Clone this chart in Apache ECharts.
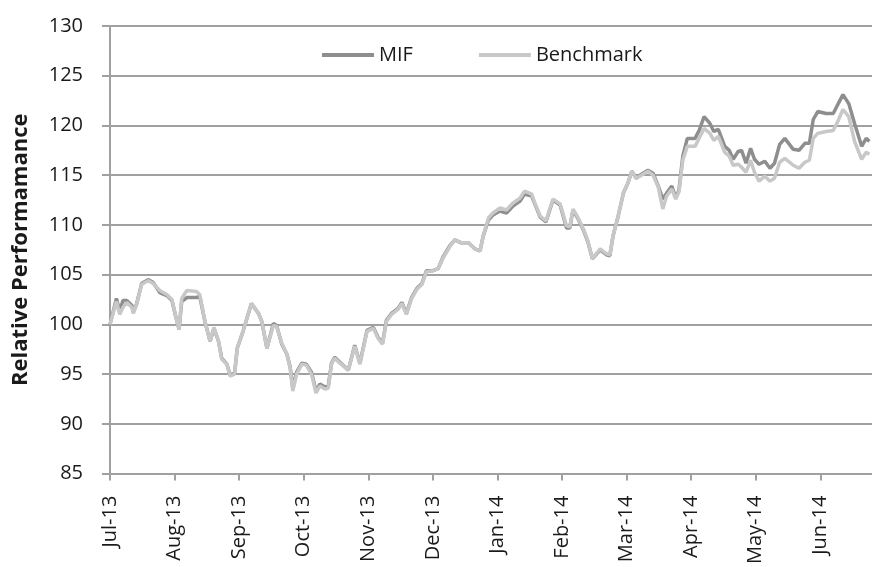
<!DOCTYPE html>
<html>
<head>
<meta charset="utf-8">
<script src="https://cdn.jsdelivr.net/npm/echarts@6/dist/echarts.min.js"></script>
<style>
  html, body { margin: 0; padding: 0; background: #fff; }
  #chart { width: 872px; height: 567px; }
</style>
</head>
<body>
<div id="chart"></div>
<script>
// month tick labels (x axis, one per month starting Jul-13)
var months = ["Jul-13", "Aug-13", "Sep-13", "Oct-13", "Nov-13", "Dec-13",
  "Jan-14", "Feb-14", "Mar-14", "Apr-14", "May-14", "Jun-14"];

// position of each reading, in months since start of Jul-13
var t = [0, 0.10, 0.15, 0.20, 0.26, 0.34, 0.36, 0.41, 0.49, 0.59,
  0.67, 0.77, 0.88, 0.96, 1.01, 1.07, 1.11, 1.19, 1.34, 1.39,
  1.47, 1.55, 1.61, 1.68, 1.73, 1.81, 1.86, 1.93, 1.97, 2.06,
  2.19, 2.30, 2.35, 2.43, 2.53, 2.58, 2.66, 2.74, 2.79, 2.83,
  2.89, 2.97, 3.04, 3.12, 3.19, 3.25, 3.33, 3.38, 3.43, 3.48,
  3.56, 3.69, 3.79, 3.87, 3.98, 4.08, 4.15, 4.22, 4.28, 4.36,
  4.46, 4.52, 4.59, 4.67, 4.75, 4.83, 4.90, 5.00, 5.08, 5.16,
  5.26, 5.34, 5.44, 5.55, 5.65, 5.73, 5.78, 5.86, 5.93, 6.04,
  6.14, 6.24, 6.35, 6.42, 6.53, 6.58, 6.66, 6.75, 6.81, 6.86,
  6.97, 7.07, 7.12, 7.17, 7.25, 7.33, 7.40, 7.47, 7.59, 7.69,
  7.74, 7.79, 7.87, 7.95, 8.02, 8.08, 8.15, 8.23, 8.33, 8.41,
  8.49, 8.56, 8.62, 8.70, 8.76, 8.81, 8.87, 8.94, 9.06, 9.13,
  9.20, 9.29, 9.35, 9.42, 9.52, 9.59, 9.65, 9.73, 9.78, 9.85,
  9.92, 9.98, 10.05, 10.14, 10.22, 10.29, 10.37, 10.45, 10.58, 10.67,
  10.76, 10.83, 10.89, 10.96, 11.09, 11.20, 11.27, 11.35, 11.44, 11.53,
  11.64, 11.71, 11.76];

var mif = [100.0, 102.6, 101.3, 102.4, 102.4, 101.9, 101.2, 102.0, 104.1, 104.5,
  104.2, 103.2, 102.9, 102.4, 101.0, 99.5, 102.3, 102.7, 102.7, 102.8,
  100.3, 98.3, 99.6, 98.3, 96.6, 96.0, 94.9, 95.1, 97.6, 99.3,
  102.1, 101.1, 100.3, 97.6, 100.1, 99.9, 98.0, 97.0, 95.7, 93.6,
  95.2, 96.1, 96.0, 95.2, 93.3, 94.0, 93.7, 93.8, 96.1, 96.7,
  96.2, 95.4, 97.9, 96.1, 99.4, 99.7, 98.7, 98.1, 100.4, 101.1,
  101.6, 102.2, 101.1, 102.7, 103.6, 104.1, 105.4, 105.4, 105.6, 106.8,
  107.9, 108.5, 108.2, 108.2, 107.6, 107.4, 108.9, 110.5, 111.0, 111.4,
  111.2, 111.9, 112.4, 113.1, 112.9, 112.1, 110.8, 110.3, 111.5, 112.5,
  112.0, 109.7, 109.7, 111.5, 110.6, 109.5, 108.3, 106.6, 107.5, 107.0,
  106.9, 108.9, 110.9, 113.2, 114.2, 115.4, 114.7, 115.1, 115.5, 115.2,
  113.9, 112.6, 113.2, 113.9, 112.7, 113.5, 116.9, 118.7, 118.7, 119.6,
  120.9, 120.2, 119.4, 119.6, 117.9, 117.5, 116.6, 117.4, 117.5, 116.2,
  117.7, 116.6, 116.1, 116.4, 115.7, 116.2, 118.1, 118.7, 117.6, 117.5,
  118.2, 118.2, 120.6, 121.4, 121.2, 121.2, 122.1, 123.1, 122.2, 120.2,
  117.9, 118.7, 118.4];

var bench = [100.0, 102.3, 101.0, 101.7, 102.2, 101.7, 101.1, 102.0, 104.0, 104.4,
  104.1, 103.4, 103.0, 102.5, 101.0, 99.5, 102.6, 103.4, 103.3, 103.0,
  100.3, 98.3, 99.7, 98.3, 96.5, 96.0, 94.8, 95.0, 97.6, 99.3,
  102.1, 101.1, 100.3, 97.6, 99.9, 99.8, 98.1, 97.0, 95.6, 93.3,
  95.0, 96.0, 95.9, 95.0, 93.1, 93.8, 93.5, 93.6, 96.0, 96.6,
  96.1, 95.4, 97.8, 96.0, 99.3, 99.6, 98.6, 98.0, 100.3, 101.0,
  101.5, 102.1, 101.0, 102.6, 103.5, 104.0, 105.3, 105.4, 105.6, 106.7,
  107.8, 108.5, 108.2, 108.2, 107.6, 107.4, 108.9, 110.7, 111.2, 111.7,
  111.5, 112.2, 112.7, 113.4, 113.1, 112.2, 110.9, 110.4, 111.6, 112.6,
  112.1, 109.9, 109.8, 111.6, 110.7, 109.6, 108.4, 106.6, 107.6, 107.1,
  107.0, 108.9, 110.9, 113.2, 114.2, 115.4, 114.7, 115.0, 115.4, 115.0,
  113.8, 111.6, 112.9, 113.6, 112.6, 113.3, 116.5, 117.9, 117.9, 118.8,
  119.7, 119.2, 118.5, 118.9, 117.3, 116.9, 116.0, 116.1, 115.8, 115.3,
  116.5, 115.3, 114.4, 114.9, 114.4, 114.7, 116.3, 116.7, 116.0, 115.7,
  116.3, 116.5, 118.7, 119.2, 119.4, 119.5, 120.4, 121.6, 120.9, 118.4,
  116.6, 117.3, 117.1];

var monthTicks = months.map(function (m, i) { return i; });

function pairs(xs, ys) {
  return xs.map(function (x, i) { return [x, ys[i]]; });
}

var FONT = "Open Sans";
var chart = echarts.init(document.getElementById("chart"));
chart.setOption({
  animation: false,
  textStyle: { fontFamily: FONT },
  color: ["#8e8e8e", "#c8c8c8"],
  legend: {
    data: ["MIF", "Benchmark"],
    left: 317,
    top: 40,
    icon: "rect",
    itemWidth: 52,
    itemHeight: 4,
    itemGap: 66,
    textStyle: { fontFamily: FONT, fontSize: 20, color: "#1a1a1a" }
  },
  grid: { left: 110, right: 0, top: 26, height: 450 },
  xAxis: {
    type: "value",
    min: 0,
    max: 11.8,
    interval: 1,
    axisLine: { lineStyle: { color: "#a0a0a0", width: 2 } },
    axisTick: { show: true, length: 7, customValues: monthTicks, lineStyle: { color: "#a0a0a0", width: 2 } },
    axisLabel: {
      rotate: 90,
      margin: 22,
      customValues: monthTicks,
      fontFamily: FONT,
      fontSize: 20,
      color: "#1a1a1a",
      formatter: function (v) { return months[Math.round(v)] || ""; }
    },
    splitLine: { show: false }
  },
  yAxis: {
    type: "value",
    min: 85,
    max: 130,
    interval: 5,
    name: "Relative Performamance",
    nameLocation: "middle",
    nameGap: 78,
    nameTextStyle: { fontFamily: FONT, fontSize: 22, fontWeight: "bold", color: "#1a1a1a" },
    axisLine: { show: true, lineStyle: { color: "#a0a0a0", width: 2 } },
    axisTick: { show: true, length: 8, lineStyle: { color: "#a0a0a0", width: 2 } },
    axisLabel: { margin: 27, fontFamily: FONT, fontSize: 20, color: "#1a1a1a" },
    splitLine: { show: true, lineStyle: { color: "#a0a0a0", width: 2 } }
  },
  series: [
    {
      name: "MIF",
      type: "line",
      showSymbol: false,
      lineStyle: { width: 3.5 },
      data: pairs(t, mif)
    },
    {
      name: "Benchmark",
      type: "line",
      showSymbol: false,
      lineStyle: { width: 3.5 },
      data: pairs(t, bench)
    }
  ]
});
</script>
</body>
</html>
